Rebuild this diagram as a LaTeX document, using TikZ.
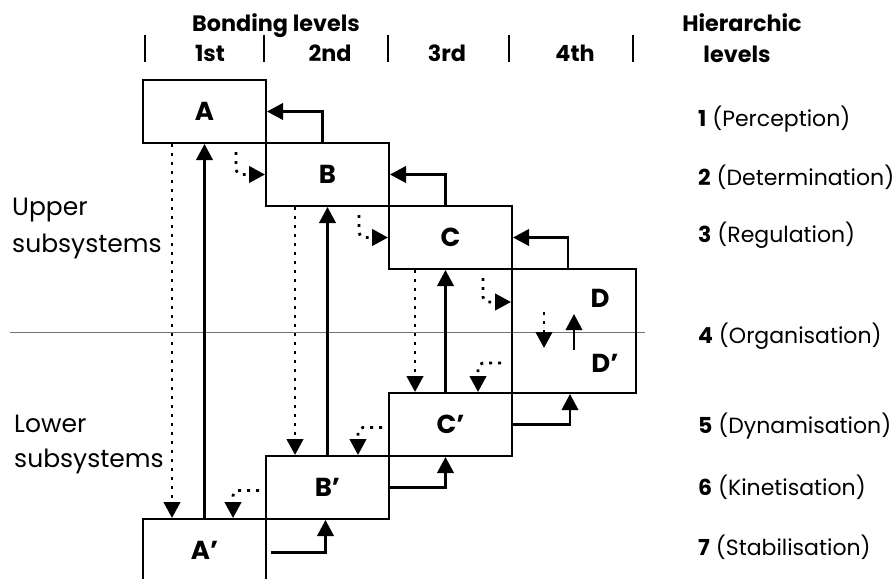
\documentclass[tikz,border=0pt]{standalone}
\usepackage{fontspec}
\setmainfont{Poppins}
\usetikzlibrary{arrows.meta,calc}

\tikzset{
  box/.style={draw, line width=2pt, minimum width=123pt, minimum height=63pt,
    inner sep=0pt, font=\bfseries\fontsize{26}{26}\selectfont},
  boxtext/.style={inner sep=0pt, font=\bfseries\fontsize{26}{26}\selectfont},
  tip/.style={-{Triangle[width=16.5pt,length=16pt]}},
  link/.style={line width=2.2pt, tip},
  dotlink/.style={line width=2.8pt, dash pattern=on 2.8pt off 6.2pt, tip, rounded corners=5pt},
  hdr/.style={inner sep=0pt, anchor=base, font=\bfseries\fontsize{22.3}{22.3}\selectfont},
  side/.style={inner sep=0pt, anchor=base west, align=left, font=\fontsize{25}{25}\selectfont},
  level/.style={inner sep=0pt, anchor=base west, font=\fontsize{22}{22}\selectfont},
  tick/.style={line width=2.2pt},
}

\begin{document}
\begin{tikzpicture}[x=1pt, y=-1pt]
  \useasboundingbox (0,0) rectangle (896,578);

  % separator between upper and lower subsystems
  \draw[black!55, line width=1pt] (10,332) -- (645,332);

  % column header
  \node[hdr] (bond) at (276,32) {Bonding levels};
  \foreach \x in {145,264,388,509,633} \draw[tick] (\x,35) -- (\x,62);
  \node[hdr] (c1) at (210,62) {1st};
  \node[hdr] (c2) at (330,62) {2nd};
  \node[hdr] (c3) at (447,62) {3rd};
  \node[hdr] (c4) at (575,62) {4th};

  % row header
  \node[hdr] (hier) at (742,32) {Hierarchic};
  \node[hdr] (hlev) at (737,63) {levels};

  % side labels
  \node[side] (upper) at (12,215) {Upper};
  \node[side] (upsub) at (12,252) {subsystems};
  \node[side] (lower) at (14,432) {Lower};
  \node[side] (losub) at (14,467) {subsystems};

  % hierarchic levels
  \node[level] (l1) at (698,126) {\textbf{1} (Perception)};
  \node[level] (l2) at (698,185) {\textbf{2} (Determination)};
  \node[level] (l3) at (698,242) {\textbf{3} (Regulation)};
  \node[level] (l4) at (698,343) {\textbf{4} (Organisation)};
  \node[level] (l5) at (698,433) {\textbf{5} (Dynamisation)};
  \node[level] (l6) at (698,495) {\textbf{6} (Kinetisation)};
  \node[level] (l7) at (698,555) {\textbf{7} (Stabilisation)};

  % staircase of subsystems
  \node[box] (A)  at (204.5,111.5) {A};
  \node[box] (B)  at (327.5,174.5) {B};
  \node[box] (C)  at (450.5,237.5) {C};
  \node[box, minimum width=124pt, minimum height=124pt] (D) at (574,331) {};
  \node[boxtext] (Dtop) at (600,298) {D};
  \node[boxtext] (Dbot) at (605,363) {D’};
  \node[box] (Cp) at (450.5,424.5) {C’};
  \node[box] (Bp) at (327.5,487.5) {B’};
  \node[box] (Ap) at (204.5,550.5) {A’};

  % ascending links
  \draw[link] (Ap.north) -- (A.south);
  \draw[link] (Bp.north) -- (B.south);
  \draw[link] ($(Cp.north)+(-5,0)$) -- ($(C.south)+(-5,0)$);
  \draw[link] ($(D.center)+(0,19)$) -- ($(D.center)+(0,-17)$);

  % descending links
  \draw[dotlink] ($(A.south west)+(30,0)$) -- ($(Ap.north west)+(30,0)$);
  \draw[dotlink] ($(B.south west)+(30,0)$) -- ($(Bp.north west)+(30,0)$);
  \draw[dotlink] ($(C.south west)+(27,0)$) -- ($(Cp.north west)+(27,0)$);
  \draw[dotlink] ($(D.center)+(-30,-19)$) -- ($(D.center)+(-30,17)$);

  % upper subsystems: feedback upwards, control downwards
  \draw[link] ($(B.north)+(-5,0)$) |- (A.east);
  \draw[link] ($(C.north)+(-5,0)$) |- (B.east);
  \draw[link] ($(D.north)+(-6,0)$) |- (C.east);
  \draw[dotlink] ($(A.south east)+(-31,8)$) |- (B.west);
  \draw[dotlink] ($(B.south east)+(-31,8)$) |- (C.west);
  \draw[dotlink] ($(C.south east)+(-30,8)$) |- ($(D.north west)+(0,34)$);

  % lower subsystems
  \draw[link] ($(Ap.east)+(4,2)$) -| ($(Bp.south)+(-2,0)$);
  \draw[link] (Bp.east) -| ($(Cp.south)+(-5,0)$);
  \draw[link] (Cp.east) -| ($(D.south)+(-4,0)$);
  \draw[dotlink] ($(D.west)+(-10,32)$) -| ($(Cp.north east)+(-35,0)$);
  \draw[dotlink] ($(Cp.west)+(-6,3)$) -| ($(Bp.north east)+(-32,0)$);
  \draw[dotlink] ($(Bp.west)+(-6,3)$) -| ($(Ap.north east)+(-34,0)$);
\end{tikzpicture}
\end{document}
